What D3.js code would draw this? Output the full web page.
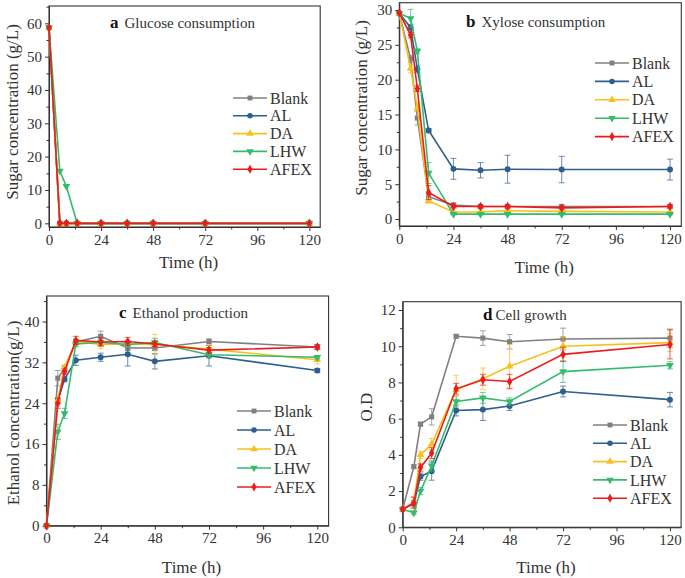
<!DOCTYPE html>
<html>
<head>
<meta charset="utf-8">
<script src="https://cdn.jsdelivr.net/npm/d3@7"></script>
<style>
  body { margin: 0; background: #fff; }
  svg { display: block; font-family: "Liberation Serif", "Times New Roman", serif; font-weight: 400; }
</style>
</head>
<body>
<svg id="chart" width="685" height="578"></svg>
<script>
// sampling times (h)
const times = [0, 5, 8, 13, 24, 36, 48, 72, 120];
const seriesNames = ["Blank", "AL", "DA", "LHW", "AFEX"];
const seriesColors = ["#808080", "#2f5f8e", "#f7c11b", "#34bb6c", "#ec1c1c"];
const seriesSymbols = [d3.symbolSquare, d3.symbolCircle, d3.symbolTriangle, d3.symbolTriangle, d3.symbolDiamond];

// a Glucose consumption (g/L)
const glucoseBlank = [58.7, 0, 0, 0, 0, 0, 0, 0, 0];
const glucoseAL    = [58.7, 0, 0, 0, 0, 0, 0, 0, 0];
const glucoseDA    = [58.7, 0, 0, 0, 0, 0, 0, 0, 0];
const glucoseLHW   = [58.7, 15.7, 11.1, 0, 0, 0, 0, 0, 0];
const glucoseAFEX  = [58.7, 0, 0, 0, 0, 0, 0, 0, 0];

// b Xylose consumption (g/L)
const xyloseBlank = [29.5, 23.0, 14.5, 3.2, 2.0, 1.8, 1.8, 1.8, 1.8];
const xyloseAL    = [29.5, 27.5, 21.5, 12.7, 7.2, 7.0, 7.15, 7.1, 7.1];
const xyloseDA    = [29.5, 21.6, 16.0, 2.6, 1.0, 1.0, 1.2, 1.1, 1.0];
const xyloseLHW   = [29.5, 28.8, 24.1, 6.6, 0.7, 0.7, 0.7, 0.7, 0.7];
const xyloseAFEX  = [29.6, 26.4, 18.7, 3.8, 1.8, 1.8, 1.8, 1.6, 1.8];
const xyloseErrBlank = [0, 0.5, 1.0, 0.5, 0.3, 0.2, 0.2, 0.2, 0.2];
const xyloseErrAL    = [0, 0.4, 0.5, 0.3, 1.5, 1.1, 2.0, 1.9, 1.5];
const xyloseErrDA    = [0, 0.6, 0.5, 0.3, 0.1, 0.1, 0.1, 0.1, 0.1];
const xyloseErrLHW   = [0, 1.3, 0.4, 1.5, 0.1, 0.1, 0.1, 0.1, 0.1];
const xyloseErrAFEX  = [0, 0.4, 0.4, 1.0, 0.2, 0.2, 0.2, 0.2, 0.2];

// c Ethanol production (g/L)
const ethanolBlank = [0, 28.9, 30.8, 36.0, 37.1, 34.8, 34.8, 36.1, 35.0];
const ethanolAL    = [0, 24.5, 28.7, 32.4, 33.0, 33.6, 32.2, 33.3, 30.4];
const ethanolDA    = [0, 24.6, 31.0, 36.1, 35.5, 35.6, 35.5, 34.6, 32.5];
const ethanolLHW   = [0, 18.4, 22.0, 35.6, 35.9, 35.5, 35.9, 33.5, 33.0];
const ethanolAFEX  = [0, 24.0, 30.2, 36.3, 36.0, 36.1, 35.6, 34.4, 35.0];
const ethanolErrBlank = [0, 1.5, 0.5, 0.5, 1.0, 0.5, 0.5, 0.5, 0.3];
const ethanolErrAL    = [0, 0.5, 0.5, 1.0, 0.8, 2.3, 1.5, 2.0, 0.4];
const ethanolErrDA    = [0, 0.5, 0.5, 0.5, 0.8, 0.5, 2.0, 0.8, 0.8];
const ethanolErrLHW   = [0, 1.5, 1.0, 0.5, 0.5, 0.5, 0.8, 0.5, 0.3];
const ethanolErrAFEX  = [0, 1.0, 0.5, 0.8, 0.8, 0.8, 0.5, 0.5, 0.5];

// d Cell growth (O.D)
const growthBlank = [1.0, 3.35, 5.7, 6.1, 10.55, 10.45, 10.25, 10.4, 10.45];
const growthAL    = [1.0, 1.3, 2.8, 3.1, 6.45, 6.5, 6.7, 7.5, 7.05];
const growthDA    = [1.0, 1.4, 4.0, 4.6, 7.6, 8.2, 8.9, 10.0, 10.2];
const growthLHW   = [1.0, 0.8, 2.0, 3.4, 6.95, 7.15, 6.95, 8.6, 8.95];
const growthAFEX  = [1.0, 1.35, 3.3, 4.1, 7.65, 8.15, 8.05, 9.55, 10.1];
const growthErrBlank = [0, 0.1, 0.1, 0.45, 0.1, 0.4, 0.4, 0.6, 0.5];
const growthErrAL    = [0, 0.2, 0.2, 0.5, 0.3, 0.6, 0.25, 0.3, 0.4];
const growthErrDA    = [0, 0.3, 0.2, 0.3, 0.8, 0.6, 1.2, 0.5, 0.5];
const growthErrLHW   = [0, 0.1, 0.2, 0.3, 0.3, 0.3, 0.2, 0.6, 0.2];
const growthErrAFEX  = [0, 0.3, 0.2, 0.3, 0.3, 0.3, 0.4, 0.4, 0.8];

const xTicks = [0, 24, 48, 72, 96, 120];

const zeros = times.map(() => 0);

// layout of the four panels
const panels = [
  { letter: "a", title: "Glucose consumption", ylabel: "Sugar concentration (g/L)",
    box: [49, 6, 320.2, 227], ydom: [-1.1, 65.2], ystep: 10, ymax: 60,
    values: [glucoseBlank, glucoseAL, glucoseDA, glucoseLHW, glucoseAFEX],
    errors: [zeros, zeros, zeros, zeros, zeros],
    titleXY: [110, 28], legendXY: [233, 98], legendGap: 17.8,
    ylabelXY: [12, 112], xlabelY: 262 },
  { letter: "b", title: "Xylose consumption", ylabel: "Sugar concentration (g/L)",
    box: [399.3, 2.7, 681.3, 226], ydom: [-1.0, 31.05], ystep: 5, ymax: 30,
    values: [xyloseBlank, xyloseAL, xyloseDA, xyloseLHW, xyloseAFEX],
    errors: [xyloseErrBlank, xyloseErrAL, xyloseErrDA, xyloseErrLHW, xyloseErrAFEX],
    titleXY: [466, 27], legendXY: [595, 63], legendGap: 18.4,
    ylabelXY: [361, 108], xlabelY: 267 },
  { letter: "c", title: "Ethanol production", ylabel: "Ethanol concentration(g/L)",
    box: [46.5, 296, 328.6, 525.7], ydom: [0, 45], ystep: 8, ymax: 40,
    values: [ethanolBlank, ethanolAL, ethanolDA, ethanolLHW, ethanolAFEX],
    errors: [ethanolErrBlank, ethanolErrAL, ethanolErrDA, ethanolErrLHW, ethanolErrAFEX],
    titleXY: [119, 318], legendXY: [237, 411], legendGap: 19,
    ylabelXY: [13, 413], xlabelY: 567 },
  { letter: "d", title: "Cell growth", ylabel: "O.D",
    box: [402.7, 301.7, 681.1, 527.3], ydom: [0, 12.46], ystep: 2, ymax: 12,
    values: [growthBlank, growthAL, growthDA, growthLHW, growthAFEX],
    errors: [growthErrBlank, growthErrAL, growthErrDA, growthErrLHW, growthErrAFEX],
    titleXY: [483, 320], legendXY: [593, 425], legendGap: 18.3,
    ylabelXY: [366, 407], xlabelY: 567 }
];

const svg = d3.select("#chart");
const axisColor = "#333";
const textColor = "#333";

const symbolPath = (i, size) => d3.symbol().type(seriesSymbols[i]).size(size)();

panels.forEach(p => {
  const [x0, y0, x1, y1] = p.box;
  const x = d3.scaleLinear().domain([0, 125]).range([x0, x1]);
  const y = d3.scaleLinear().domain(p.ydom).range([y1, y0]);
  const g = svg.append("g");

  // frame (top / right)
  g.append("rect")
    .attr("x", x0).attr("y", y0)
    .attr("width", x1 - x0).attr("height", y1 - y0)
    .attr("fill", "none").attr("stroke", axisColor).attr("stroke-width", 1.1);

  // x axis: major + minor ticks
  g.append("g").attr("transform", `translate(0,${y1})`)
    .call(d3.axisBottom(x).tickValues(xTicks).tickSize(4).tickSizeOuter(0).tickPadding(3))
    .call(a => a.select(".domain").attr("stroke", axisColor))
    .call(a => a.selectAll(".tick line").attr("stroke", axisColor))
    .call(a => a.selectAll("text").attr("font-size", 15).attr("fill", textColor)
      .attr("font-family", "Liberation Serif"));
  g.append("g").attr("transform", `translate(0,${y1})`)
    .call(d3.axisBottom(x).tickValues(d3.range(12, 125, 24)).tickSize(2.5).tickFormat(""))
    .call(a => a.select(".domain").remove())
    .call(a => a.selectAll(".tick line").attr("stroke", axisColor));

  // y axis
  const yMajor = d3.range(0, p.ymax + 0.001, p.ystep);
  const yMinor = d3.range(p.ystep / 2, p.ydom[1], p.ystep);
  g.append("g").attr("transform", `translate(${x0},0)`)
    .call(d3.axisLeft(y).tickValues(yMajor).tickSize(4).tickSizeOuter(0).tickPadding(3))
    .call(a => a.select(".domain").attr("stroke", axisColor))
    .call(a => a.selectAll(".tick line").attr("stroke", axisColor))
    .call(a => a.selectAll("text").attr("font-size", 15).attr("fill", textColor)
      .attr("font-family", "Liberation Serif"));
  g.append("g").attr("transform", `translate(${x0},0)`)
    .call(d3.axisLeft(y).tickValues(yMinor).tickSize(2.5).tickFormat(""))
    .call(a => a.select(".domain").remove())
    .call(a => a.selectAll(".tick line").attr("stroke", axisColor));

  // axis labels
  g.append("text")
    .attr("x", (x0 + x1) / 2 + 4).attr("y", p.xlabelY)
    .attr("dy", "0.35em")
    .attr("text-anchor", "middle").attr("font-size", 17).attr("fill", textColor)
    .text("Time (h)");
  g.append("text")
    .attr("transform", `translate(${p.ylabelXY[0]},${p.ylabelXY[1]}) rotate(-90)`)
    .attr("dy", "0.35em")
    .attr("text-anchor", "middle").attr("font-size", 17).attr("fill", textColor)
    .text(p.ylabel);

  // panel title
  const t = g.append("text")
    .attr("x", p.titleXY[0]).attr("y", p.titleXY[1])
    .attr("font-size", 15).attr("fill", textColor);
  t.append("tspan").attr("font-weight", "bold").attr("font-size", 17).attr("fill", "#111").text(p.letter);
  t.append("tspan").attr("dx", p.letter === "d" ? 3 : 6).text(p.title);

  const line = d3.line().x((d, i) => x(times[i])).y(d => y(d));

  // series
  p.values.forEach((vals, si) => {
    const col = seriesColors[si];
    const errs = p.errors[si];
    const sg = g.append("g");
    // error bars
    vals.forEach((v, i) => {
      const e = errs[i];
      if (!e) return;
      const cx = x(times[i]);
      sg.append("line").attr("x1", cx).attr("x2", cx)
        .attr("y1", y(v - e)).attr("y2", y(v + e))
        .attr("stroke", col).attr("stroke-width", 1).attr("opacity", 0.7);
      [v - e, v + e].forEach(yy => sg.append("line")
        .attr("x1", cx - 3).attr("x2", cx + 3)
        .attr("y1", y(yy)).attr("y2", y(yy))
        .attr("stroke", col).attr("stroke-width", 1).attr("opacity", 0.7));
    });
    sg.append("path").datum(vals)
      .attr("d", line)
      .attr("fill", "none").attr("stroke", col).attr("stroke-width", 1.6);
    sg.selectAll("path.pt").data(vals).join("path")
      .attr("class", "pt")
      .attr("transform", (d, i) => `translate(${x(times[i])},${y(d)})` + (si === 3 ? " rotate(180)" : ""))
      .attr("d", symbolPath(si, si === 1 ? 28 : 26))
      .attr("fill", col);
  });

  // legend
  const [lx, ly] = p.legendXY;
  seriesNames.forEach((name, si) => {
    const yy = ly + si * p.legendGap;
    g.append("line").attr("x1", lx).attr("x2", lx + 34)
      .attr("y1", yy).attr("y2", yy)
      .attr("stroke", seriesColors[si]).attr("stroke-width", 1.6);
    g.append("path")
      .attr("transform", `translate(${lx + 17},${yy})` + (si === 3 ? " rotate(180)" : ""))
      .attr("d", symbolPath(si, 24))
      .attr("fill", seriesColors[si]);
    g.append("text").attr("x", lx + 37).attr("y", yy)
      .attr("dy", "0.35em").attr("font-size", 16).attr("fill", textColor)
      .text(name);
  });
});
</script>
</body>
</html>
